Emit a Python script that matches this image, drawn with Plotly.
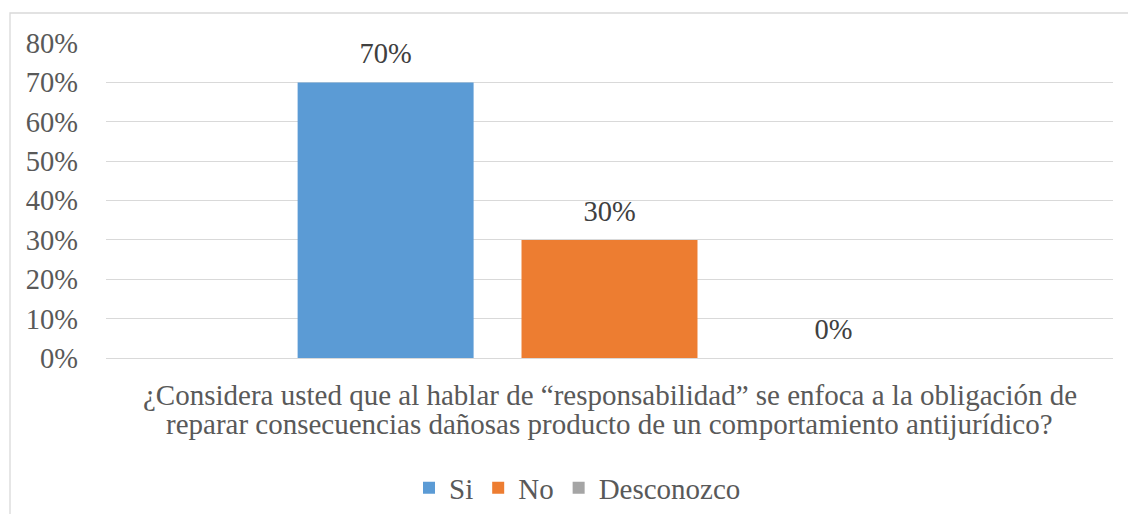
import plotly.graph_objects as go

question_lines = ["¿Considera usted que al hablar de “responsabilidad” se enfoca a la obligación de",
                  "reparar consecuencias dañosas producto de un comportamiento antijurídico?"]
category = [" ".join(question_lines)]
series_names = ["Si", "No", "Desconozco"]
series_values = [[0.70], [0.30], [0.0]]
series_colors = ["#5B9BD5", "#ED7D31", "#A5A5A5"]
y_ticks = [0, 0.1, 0.2, 0.3, 0.4, 0.5, 0.6, 0.7, 0.8]

FONT = "Liberation Serif"
TXT = "#595959"

fig = go.Figure()
for name, vals, col in zip(series_names, series_values, series_colors):
    fig.add_trace(go.Bar(
        x=category, y=vals, name=name,
        marker=dict(color=col, line=dict(width=0)),
        offsetgroup=name,
    ))
for name, vals in zip(series_names, series_values):
    fig.add_trace(go.Scatter(
        x=category, y=vals, name=name + " label", showlegend=False,
        mode="markers+text", marker=dict(size=18, opacity=0),
        offsetgroup=name, hoverinfo="skip",
        text=[f"{v*100:.0f}%" for v in vals],
        textposition="top center", cliponaxis=False,
        textfont=dict(family=FONT, size=28.5, color="#404040"),
    ))

W, H = 1128, 514
ml, mr, mt, mb = 106, 15, 43, 156
pw, ph = W - ml - mr, H - mt - mb

def py(pix):
    return (H - mb - pix) / ph

annotations = [dict(text=line, xref="paper", yref="paper", x=0.5, y=py(yc),
                    xanchor="center", yanchor="middle", showarrow=False,
                    font=dict(family=FONT, size=29, color=TXT))
               for line, yc in zip(question_lines, [395, 424])]

fig.update_layout(
    width=W, height=H,
    margin=dict(l=ml, r=mr, t=mt, b=mb, pad=0, autoexpand=False),
    paper_bgcolor="white", plot_bgcolor="white",
    barmode="group", bargap=0.333, bargroupgap=0.214,
    scattermode="group", scattergap=0.333,
    font=dict(family=FONT, size=28.5, color=TXT),
    showlegend=True,
    legend=dict(orientation="h", x=0.5 - 32 / pw, xanchor="center", y=py(488), yanchor="middle",
                font=dict(family=FONT, size=29, color=TXT), traceorder="normal",
                itemwidth=30, bgcolor="rgba(0,0,0,0)"),
    xaxis=dict(showgrid=False, showline=False, zeroline=False, ticks="",
               showticklabels=False),
    yaxis=dict(range=[0, 0.8], tickvals=y_ticks, tickformat=".0%",
               showgrid=True, gridcolor="#D9D9D9", gridwidth=1.3,
               zeroline=True, zerolinecolor="#D9D9D9", zerolinewidth=1.3,
               showline=False, ticks="", ticklabelstandoff=27,
               tickfont=dict(family=FONT, size=28.5, color=TXT)),
    annotations=annotations,
    shapes=[dict(type="rect", xref="paper", yref="paper",
                 x0=(10 - ml) / pw, x1=(W + 20 - ml) / pw,
                 y0=-(mb + 20) / ph, y1=py(13),
                 line=dict(color="#D9D9D9", width=1.3), fillcolor="rgba(0,0,0,0)",
                 layer="below")],
)

fig.write_html("out.html", config={"displayModeBar": False},
               post_script="document.body.style.margin='0';")
